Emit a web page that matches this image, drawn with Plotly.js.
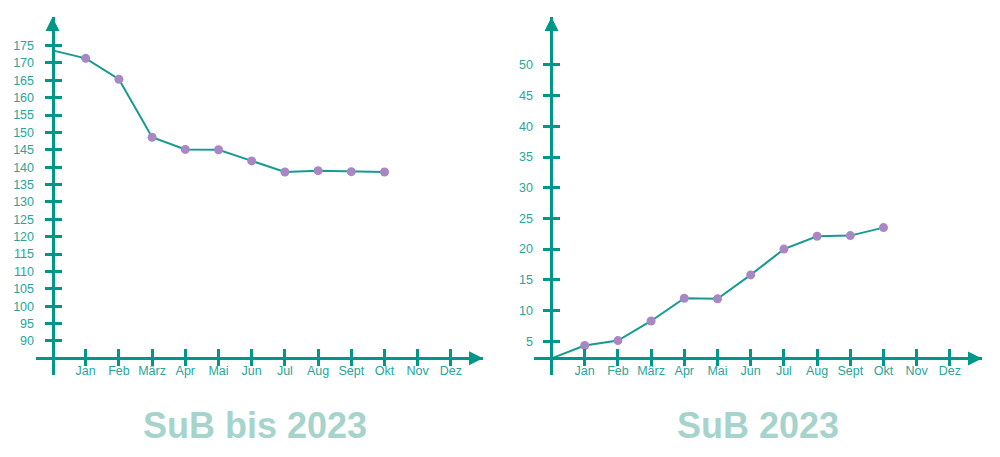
<!DOCTYPE html>
<html>
<head>
<meta charset="utf-8">
<script src="https://cdn.plot.ly/plotly-3.0.1.min.js"></script>
<style>html,body{margin:0;padding:0;background:#fff;}#chart{width:1000px;height:457px;}</style>
</head>
<body>
<div id="chart"></div>
<script>
// ---- data ----
const monthLabels = ['Jan','Feb','März','Apr','Mai','Jun','Jul','Aug','Sept','Okt','Nov','Dez'];
const leftTitle = 'SuB bis 2023';
const rightTitle = 'SuB 2023';
const leftStart = 173.6;
const leftValues = [171.3, 165.3, 148.6, 145.1, 145.0, 141.8, 138.6, 139.0, 138.7, 138.6];
const rightStart = 2.2;
const rightValues = [4.3, 5.1, 8.3, 12.0, 11.9, 15.8, 20.0, 22.1, 22.2, 23.5];
const leftTicks = [90,95,100,105,110,115,120,125,130,135,140,145,150,155,160,165,170,175];
const rightTicks = [5,10,15,20,25,30,35,40,45,50];

// ---- style ----
const AXIS = '#009688';
const LINE = '#169b8f';
const LABEL = '#26a69a';
const DOT = '#a987c4';
const TITLE = '#a6d4cd';
const FONT = 'Liberation Sans, Arial, sans-serif';

const monthX = monthLabels.map((m, i) => i + 1);

const panels = [
  {xd:[0.036,0.483], yd:[1-375/457, 1-17/457], xr:[-0.497,12.967], yr:[80.2,183.2], base:85,
   start:leftStart, vals:leftValues, ticks:leftTicks, title:leftTitle, tx:0.2545},
  {xd:[0.534,0.982], yd:[1-375/457, 1-17/457], xr:[-0.527,12.967], yr:[-0.5,57.8], base:rightStart,
   start:rightStart, vals:rightValues, ticks:rightTicks, title:rightTitle, tx:0.7575}
];

const traces = [];
const layout = {
  width:1000, height:457, margin:{l:0,r:0,t:0,b:0},
  paper_bgcolor:'#fff', plot_bgcolor:'rgba(0,0,0,0)',
  showlegend:false, font:{family:FONT},
  shapes:[], annotations:[]
};

panels.forEach((p, k) => {
  const xs = k === 0 ? '' : '2';
  const xo = k === 0 ? '3' : '4';
  const xName = 'x' + xs, yName = 'y' + xs;
  // position of y axis (x=0) and x axis (y=base) in paper coords
  const yPos = p.xd[0] + (0 - p.xr[0]) / (p.xr[1] - p.xr[0]) * (p.xd[1] - p.xd[0]);
  const xPos = p.yd[0] + (p.base - p.yr[0]) / (p.yr[1] - p.yr[0]) * (p.yd[1] - p.yd[0]);

  const common = {showgrid:false, zeroline:false, fixedrange:true};
  layout['xaxis' + xs] = Object.assign({}, common, {
    domain:p.xd, range:p.xr, anchor:'free', position:xPos,
    showline:true, linecolor:AXIS, linewidth:3,
    tickmode:'array', tickvals:monthX, ticktext:monthLabels,
    ticks:'inside', ticklen:8, tickwidth:3, tickcolor:AXIS, ticklabelstandoff:0,
    tickfont:{size:12.5, color:LABEL, family:FONT}
  });
  layout['yaxis' + xs] = Object.assign({}, common, {
    domain:p.yd, range:p.yr, anchor:'free', position:yPos,
    showline:true, linecolor:AXIS, linewidth:3,
    tickmode:'array', tickvals:p.ticks,
    ticks:'outside', ticklen:7, tickwidth:3, tickcolor:AXIS, ticklabelstandoff:8,
    tickfont:{size:12.5, color:LABEL, family:FONT}
  });
  layout['xaxis' + xo] = Object.assign({}, common, {
    domain:p.xd, range:p.xr, anchor:'free', position:xPos, overlaying:xName,
    showline:false, showticklabels:false,
    tickmode:'array', tickvals:monthX,
    ticks:'outside', ticklen:7, tickwidth:3, tickcolor:AXIS
  });
  layout['yaxis' + xo] = Object.assign({}, common, {
    domain:p.yd, range:p.yr, anchor:'free', position:yPos, overlaying:yName,
    showline:false, showticklabels:false,
    tickmode:'array', tickvals:p.ticks,
    ticks:'inside', ticklen:8, tickwidth:3, tickcolor:AXIS
  });

  traces.push({x:[], y:[], xaxis:'x'+xo, yaxis:'y'+xo, type:'scatter', mode:'markers', hoverinfo:'skip'});
  traces.push({
    x:[0].concat(monthX.slice(0, p.vals.length)), y:[p.start].concat(p.vals),
    xaxis:xName, yaxis:yName, type:'scatter', mode:'lines',
    line:{color:LINE, width:2}, hoverinfo:'skip', cliponaxis:false
  });
  traces.push({
    x:monthX.slice(0, p.vals.length), y:p.vals,
    xaxis:xName, yaxis:yName, type:'scatter', mode:'markers',
    marker:{color:DOT, size:9}, hoverinfo:'skip', cliponaxis:false
  });

  // arrow heads
  layout.shapes.push({type:'path', xref:xName, yref:yName, xsizemode:'pixel', ysizemode:'pixel',
    xanchor:0, yanchor:p.yr[1], path:'M-7,-14 L7,-14 L0,0 Z', fillcolor:AXIS, line:{width:0}, layer:'above'});
  layout.shapes.push({type:'path', xref:xName, yref:yName, xsizemode:'pixel', ysizemode:'pixel',
    xanchor:p.xr[1], yanchor:p.base, path:'M0,0 L-14,7 L-14,-7 Z', fillcolor:AXIS, line:{width:0}, layer:'above'});

  layout.annotations.push({xref:'paper', yref:'paper', x:p.tx, y:1-425/457, xanchor:'center', yanchor:'middle',
    text:p.title, showarrow:false, font:{family:FONT, size:36, color:TITLE, weight:'bold'}});
});

Plotly.newPlot('chart', traces, layout, {staticPlot:true, displayModeBar:false});
</script>
</body>
</html>
